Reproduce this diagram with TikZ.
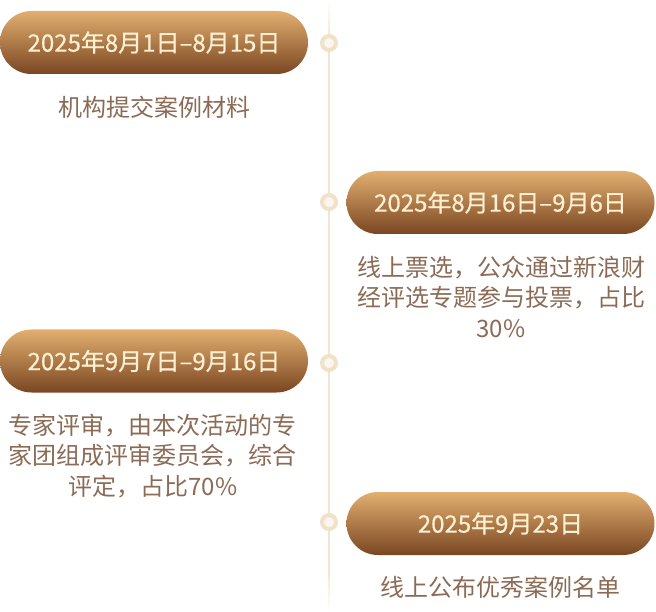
\documentclass[tikz,border=0pt]{standalone}
\usepackage{fontspec}
\setmainfont{Noto Sans CJK SC}
\newfontfamily\pillfont{Noto Sans CJK SC}[FakeBold=0.6]
\definecolor{pilltop}{HTML}{E2AF70}
\definecolor{pillmid}{HTML}{AC7545}
\definecolor{pillbot}{HTML}{7A4622}
\definecolor{pilltext}{HTML}{FCEFD2}
\definecolor{desctext}{HTML}{8B6B55}
\definecolor{linecol}{HTML}{F2E6D2}
\definecolor{dotring}{HTML}{F0E2C8}
\definecolor{dotin}{HTML}{FBF7F0}
\begin{document}
\begin{tikzpicture}[x=1pt,y=-1pt,
  pill/.style={rounded corners=31.5pt, minimum width=308pt, minimum height=63pt,
    top color=pilltop, middle color=pillmid, bottom color=pillbot, text=pilltext,
    font=\pillfont\fontsize{24}{28}\selectfont, inner sep=0pt},
  desc/.style={text=desctext, font=\fontsize{24}{30.5}\selectfont, align=center, inner sep=0pt},
  dotmark/.style={circle, draw=dotring, line width=4pt, fill=dotin, minimum size=14pt, inner sep=0pt}]
\useasboundingbox (0,0) rectangle (656,612);
% timeline
\coordinate (ltop) at (329,0);
\coordinate (lbot) at (329,612);
\shade[top color=white, bottom color=linecol] (328,0) rectangle (330,40);
\fill[linecol] (328,40) rectangle (330,570);
\shade[top color=linecol, bottom color=white] (328,570) rectangle (330,612);
% dots
\node[dotmark] (d1) at (329,43) {};
\node[dotmark] (d2) at (329,202) {};
\node[dotmark] (d3) at (329,363) {};
\node[dotmark] (d4) at (329,522) {};
% pills
\node[pill] (p1) at (154,42.5) {2025年8月1日–8月15日};
\node[pill] (p2) at (500.5,202.5) {2025年8月16日–9月6日};
\node[pill] (p3) at (154,361) {2025年9月7日–9月16日};
\node[pill] (p4) at (500.5,523.5) {2025年9月23日};
% descriptions
\node[desc] (t1) at (154,107) {机构提交案例材料};
\node[desc] (t2) at (501,296.5) {线上票选，公众通过新浪财\\经评选专题参与投票，占比\\30\%};
\node[desc] (t3) at (153,456) {专家评审，由本次活动的专\\家团组成评审委员会，综合\\评定，占比70\%};
\node[desc] (t4) at (500,587) {线上公布优秀案例名单};
\end{tikzpicture}
\end{document}
